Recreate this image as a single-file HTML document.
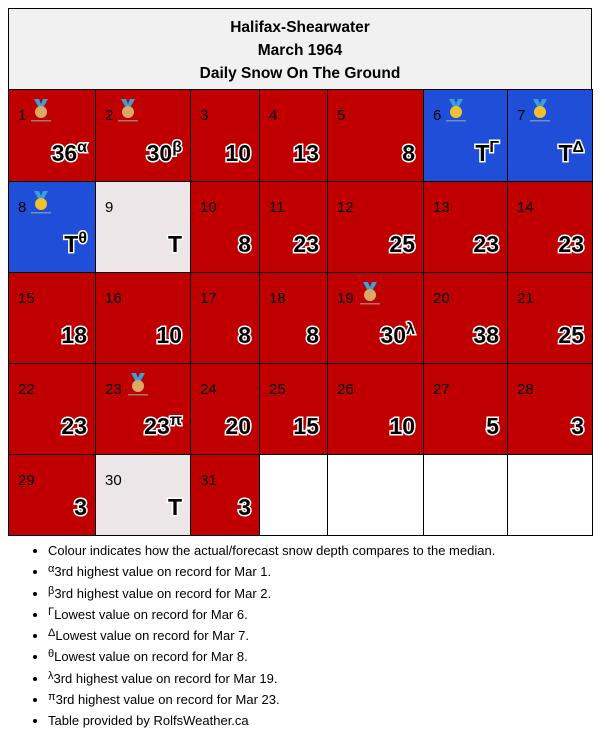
<!DOCTYPE html>
<html><head><meta charset="utf-8"><style>
body{margin:0;width:600px;height:744px;background:#fff;font-family:"Liberation Sans","DejaVu Sans",sans-serif;position:relative;overflow:hidden}
#hdr{position:absolute;left:8px;top:8px;width:582px;background:#f1f1f1;border:1px solid #000;text-align:center;font-weight:bold;font-size:15.5px;line-height:23px;padding-top:7px;box-sizing:content-box;height:74px}
.cell{position:absolute;border:1px solid #000;box-sizing:border-box}
.day{position:absolute;left:9px;top:17px;font-size:15px;color:#000}
.val{position:absolute;right:8px;bottom:14px;font-size:23px;font-weight:bold;color:#000;white-space:nowrap}
.val .bg{position:absolute;left:0;top:0;color:#fff;-webkit-text-stroke:3px #fff}
.val .fg{position:relative;color:#000}
.val sup{font-size:16px;vertical-align:9px;line-height:0}
.medal{position:absolute;left:22px;top:7px}
ul{position:absolute;left:22px;top:540px;margin:0;padding-left:26px;font-size:13px;line-height:21.3px;color:#000}
ul sup{font-size:11px;vertical-align:4px;line-height:0}
</style></head><body>
<div id="hdr">Halifax-Shearwater<br>March 1964<br>Daily Snow On The Ground</div>
<div id="grid"></div>
<ul>
<li>Colour indicates how the actual/forecast snow depth compares to the median.</li>
<li><sup>α</sup>3rd highest value on record for Mar 1.</li>
<li><sup>β</sup>3rd highest value on record for Mar 2.</li>
<li><sup>Γ</sup>Lowest value on record for Mar 6.</li>
<li><sup>Δ</sup>Lowest value on record for Mar 7.</li>
<li><sup>θ</sup>Lowest value on record for Mar 8.</li>
<li><sup>λ</sup>3rd highest value on record for Mar 19.</li>
<li><sup>π</sup>3rd highest value on record for Mar 23.</li>
<li>Table provided by RolfsWeather.ca</li>
</ul>
<script>
const days=[1,2,3,4,5,6,7,8,9,10,11,12,13,14,15,16,17,18,19,20,21,22,23,24,25,26,27,28,29,30,31];
const values=["36","30","10","13","8","T","T","T","T","8","23","25","23","23","18","10","8","8","30","38","25","23","23","20","15","10","5","3","3","T","3"];
const sups={1:"α",2:"β",6:"Γ",7:"Δ",8:"θ",19:"λ",23:"π"};
const medals={1:"bronze",2:"bronze",6:"gold",7:"gold",8:"gold",19:"bronze",23:"bronze"};
const cats=["high","high","high","high","high","low","low","low","normal","high","high","high","high","high","high","high","high","high","high","high","high","high","high","high","high","high","high","high","high","normal","high"];
const colX=[8,95,190,259,327,423,507,592];
const rowY=[89,181,272,363,454,535];
const colors={high:"#c00000",low:"#1f4fd8",normal:"#ece6e8",empty:"#fff"};
const g=document.getElementById('grid');
function medalSvg(kind){
 const c=kind==="gold"?"#f0c030":"#dba868";
 return `<svg width="24" height="26" viewBox="0 0 24 26"><path d="M5 2h5l2 5 2-5h5l-5 9h-4z" fill="#3aa0d8"/><circle cx="12" cy="15" r="6" fill="${c}"/><rect x="2" y="23" width="20" height="1.5" fill="#9aa" opacity="0.7"/></svg>`;
}
for(let i=0;i<35;i++){
 const r=Math.floor(i/7),c=i%7;
 const el=document.createElement('div');
 el.className='cell';
 el.style.left=colX[c]+'px';el.style.top=rowY[r]+'px';
 el.style.width=(colX[c+1]-colX[c]+1)+'px';el.style.height=(rowY[r+1]-rowY[r]+1)+'px';
 if(i<days.length){
  const d=days[i];
  el.style.background=colors[cats[i]];
  
  
  const t=values[i]+(sups[d]?'<sup>'+sups[d]+'</sup>':'');
  let h=`<span class="day">${d}</span>`;
  if(medals[d]) h+=`<span class="medal" style="left:${d>=10?30:20}px">${medalSvg(medals[d])}</span>`;
  h+=`<span class="val"><span class="bg" aria-hidden="true">${t}</span><span class="fg">${t}</span></span>`;
  el.innerHTML=h;
 } else {
  el.style.background=colors.empty;
  
  
 }
 g.appendChild(el);
}
</script>
</body></html>
